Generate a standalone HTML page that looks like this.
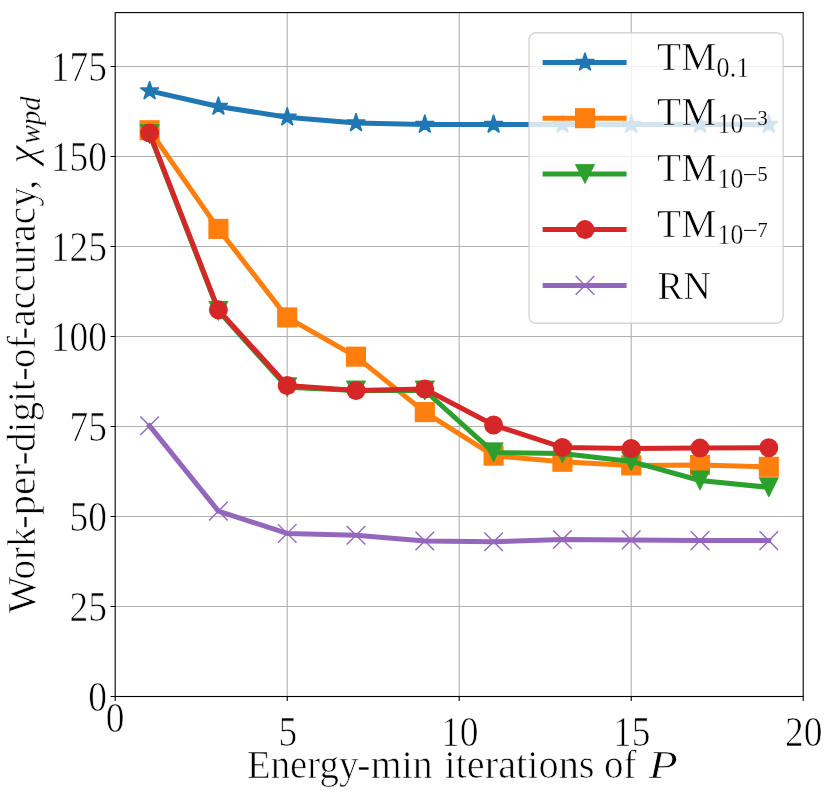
<!DOCTYPE html>
<html lang="en">
<head>
<meta charset="utf-8">
<title>Work-per-digit-of-accuracy</title>
<style>
html,body{margin:0;padding:0;background:#ffffff;}
body{width:830px;height:794px;overflow:hidden;font-family:"Liberation Serif",serif;}
svg{display:block;will-change:transform;}
</style>
</head>
<body>
<svg width="830" height="794" viewBox="0 0 830 794">
<rect x="0" y="0" width="830" height="794" fill="#ffffff"/>
<path d="M287.2 12.6V696.5M459.2 12.6V696.5M631.2 12.6V696.5M115.2 606.5H803.2M115.2 516.5H803.2M115.2 426.5H803.2M115.2 336.5H803.2M115.2 246.5H803.2M115.2 156.5H803.2M115.2 66.5H803.2" stroke="#b0b0b0" stroke-width="1.11" fill="none"/>
<path d="M115.2 696.5v4.6M287.2 696.5v4.6M459.2 696.5v4.6M631.2 696.5v4.6M803.2 696.5v4.6M115.2 696.5h-4.6M115.2 606.5h-4.6M115.2 516.5h-4.6M115.2 426.5h-4.6M115.2 336.5h-4.6M115.2 246.5h-4.6M115.2 156.5h-4.6M115.2 66.5h-4.6" stroke="#000" stroke-width="1.11" fill="none"/>
<clipPath id="axclip"><rect x="115.2" y="12.6" width="688" height="683.9"/></clipPath>
<g clip-path="url(#axclip)">
<polyline points="149.6,90.98 218.4,106.46 287.2,117.26 356,123.02 424.8,124.46 493.6,124.46 562.4,124.46 631.2,124.46 700,124.46 768.8,124.46" fill="none" stroke="#1f77b4" stroke-width="5" stroke-linejoin="round" stroke-linecap="square"/>
<polygon points="149.6,81.26 151.78,87.98 158.84,87.98 153.13,92.13 155.31,98.84 149.6,94.69 143.89,98.84 146.07,92.13 140.36,87.98 147.42,87.98" fill="#1f77b4" stroke="#1f77b4" stroke-width="1.39" stroke-linejoin="bevel"/>
<polygon points="218.4,96.74 220.58,103.46 227.64,103.46 221.93,107.61 224.11,114.32 218.4,110.17 212.69,114.32 214.87,107.61 209.16,103.46 216.22,103.46" fill="#1f77b4" stroke="#1f77b4" stroke-width="1.39" stroke-linejoin="bevel"/>
<polygon points="287.2,107.54 289.38,114.26 296.44,114.26 290.73,118.41 292.91,125.12 287.2,120.97 281.49,125.12 283.67,118.41 277.96,114.26 285.02,114.26" fill="#1f77b4" stroke="#1f77b4" stroke-width="1.39" stroke-linejoin="bevel"/>
<polygon points="356,113.3 358.18,120.02 365.24,120.02 359.53,124.17 361.71,130.88 356,126.73 350.29,130.88 352.47,124.17 346.76,120.02 353.82,120.02" fill="#1f77b4" stroke="#1f77b4" stroke-width="1.39" stroke-linejoin="bevel"/>
<polygon points="424.8,114.74 426.98,121.46 434.04,121.46 428.33,125.61 430.51,132.32 424.8,128.17 419.09,132.32 421.27,125.61 415.56,121.46 422.62,121.46" fill="#1f77b4" stroke="#1f77b4" stroke-width="1.39" stroke-linejoin="bevel"/>
<polygon points="493.6,114.74 495.78,121.46 502.84,121.46 497.13,125.61 499.31,132.32 493.6,128.17 487.89,132.32 490.07,125.61 484.36,121.46 491.42,121.46" fill="#1f77b4" stroke="#1f77b4" stroke-width="1.39" stroke-linejoin="bevel"/>
<polygon points="562.4,114.74 564.58,121.46 571.64,121.46 565.93,125.61 568.11,132.32 562.4,128.17 556.69,132.32 558.87,125.61 553.16,121.46 560.22,121.46" fill="#1f77b4" stroke="#1f77b4" stroke-width="1.39" stroke-linejoin="bevel"/>
<polygon points="631.2,114.74 633.38,121.46 640.44,121.46 634.73,125.61 636.91,132.32 631.2,128.17 625.49,132.32 627.67,125.61 621.96,121.46 629.02,121.46" fill="#1f77b4" stroke="#1f77b4" stroke-width="1.39" stroke-linejoin="bevel"/>
<polygon points="700,114.74 702.18,121.46 709.24,121.46 703.53,125.61 705.71,132.32 700,128.17 694.29,132.32 696.47,125.61 690.76,121.46 697.82,121.46" fill="#1f77b4" stroke="#1f77b4" stroke-width="1.39" stroke-linejoin="bevel"/>
<polygon points="768.8,114.74 770.98,121.46 778.04,121.46 772.33,125.61 774.51,132.32 768.8,128.17 763.09,132.32 765.27,125.61 759.56,121.46 766.62,121.46" fill="#1f77b4" stroke="#1f77b4" stroke-width="1.39" stroke-linejoin="bevel"/>
<polyline points="149.6,130.22 218.4,228.86 287.2,317.42 356,356.66 424.8,412.1 493.6,455.66 562.4,461.78 631.2,465.38 700,465.02 768.8,466.82" fill="none" stroke="#ff7f0e" stroke-width="5" stroke-linejoin="round" stroke-linecap="square"/>
<rect x="139.55" y="120.17" width="20.1" height="20.1" fill="#ff7f0e"/>
<rect x="208.35" y="218.81" width="20.1" height="20.1" fill="#ff7f0e"/>
<rect x="277.15" y="307.37" width="20.1" height="20.1" fill="#ff7f0e"/>
<rect x="345.95" y="346.61" width="20.1" height="20.1" fill="#ff7f0e"/>
<rect x="414.75" y="402.05" width="20.1" height="20.1" fill="#ff7f0e"/>
<rect x="483.55" y="445.61" width="20.1" height="20.1" fill="#ff7f0e"/>
<rect x="552.35" y="451.73" width="20.1" height="20.1" fill="#ff7f0e"/>
<rect x="621.15" y="455.33" width="20.1" height="20.1" fill="#ff7f0e"/>
<rect x="689.95" y="454.97" width="20.1" height="20.1" fill="#ff7f0e"/>
<rect x="758.75" y="456.77" width="20.1" height="20.1" fill="#ff7f0e"/>
<polyline points="149.6,134.18 218.4,310.94 287.2,387.26 356,390.5 424.8,390.5 493.6,452.42 562.4,453.5 631.2,461.42 700,480.5 768.8,487.34" fill="none" stroke="#2ca02c" stroke-width="5" stroke-linejoin="round" stroke-linecap="square"/>
<polygon points="140.03,124.61 159.17,124.61 149.6,143.75" fill="#2ca02c" stroke="#2ca02c" stroke-width="0.83" stroke-linejoin="miter"/>
<polygon points="208.83,301.37 227.97,301.37 218.4,320.51" fill="#2ca02c" stroke="#2ca02c" stroke-width="0.83" stroke-linejoin="miter"/>
<polygon points="277.63,377.69 296.77,377.69 287.2,396.83" fill="#2ca02c" stroke="#2ca02c" stroke-width="0.83" stroke-linejoin="miter"/>
<polygon points="346.43,380.93 365.57,380.93 356,400.07" fill="#2ca02c" stroke="#2ca02c" stroke-width="0.83" stroke-linejoin="miter"/>
<polygon points="415.23,380.93 434.37,380.93 424.8,400.07" fill="#2ca02c" stroke="#2ca02c" stroke-width="0.83" stroke-linejoin="miter"/>
<polygon points="484.03,442.85 503.17,442.85 493.6,461.99" fill="#2ca02c" stroke="#2ca02c" stroke-width="0.83" stroke-linejoin="miter"/>
<polygon points="552.83,443.93 571.97,443.93 562.4,463.07" fill="#2ca02c" stroke="#2ca02c" stroke-width="0.83" stroke-linejoin="miter"/>
<polygon points="621.63,451.85 640.77,451.85 631.2,470.99" fill="#2ca02c" stroke="#2ca02c" stroke-width="0.83" stroke-linejoin="miter"/>
<polygon points="690.43,470.93 709.57,470.93 700,490.07" fill="#2ca02c" stroke="#2ca02c" stroke-width="0.83" stroke-linejoin="miter"/>
<polygon points="759.23,477.77 778.37,477.77 768.8,496.91" fill="#2ca02c" stroke="#2ca02c" stroke-width="0.83" stroke-linejoin="miter"/>
<polyline points="149.6,133.1 218.4,309.86 287.2,385.46 356,390.5 424.8,389.06 493.6,425.06 562.4,447.38 631.2,448.46 700,448.1 768.8,447.74" fill="none" stroke="#d62728" stroke-width="5" stroke-linejoin="round" stroke-linecap="square"/>
<circle cx="149.6" cy="133.1" r="9.5" fill="#d62728"/>
<circle cx="218.4" cy="309.86" r="9.5" fill="#d62728"/>
<circle cx="287.2" cy="385.46" r="9.5" fill="#d62728"/>
<circle cx="356" cy="390.5" r="9.5" fill="#d62728"/>
<circle cx="424.8" cy="389.06" r="9.5" fill="#d62728"/>
<circle cx="493.6" cy="425.06" r="9.5" fill="#d62728"/>
<circle cx="562.4" cy="447.38" r="9.5" fill="#d62728"/>
<circle cx="631.2" cy="448.46" r="9.5" fill="#d62728"/>
<circle cx="700" cy="448.1" r="9.5" fill="#d62728"/>
<circle cx="768.8" cy="447.74" r="9.5" fill="#d62728"/>
<polyline points="149.6,425.78 218.4,511.1 287.2,533.42 356,535.22 424.8,540.98 493.6,541.7 562.4,539.54 631.2,539.9 700,540.62 768.8,540.62" fill="none" stroke="#9467bd" stroke-width="5" stroke-linejoin="round" stroke-linecap="square"/>
<path d="M140.3 416.48L158.9 435.08M140.3 435.08L158.9 416.48" stroke="#9467bd" stroke-width="1.39" fill="none"/>
<path d="M209.1 501.8L227.7 520.4M209.1 520.4L227.7 501.8" stroke="#9467bd" stroke-width="1.39" fill="none"/>
<path d="M277.9 524.12L296.5 542.72M277.9 542.72L296.5 524.12" stroke="#9467bd" stroke-width="1.39" fill="none"/>
<path d="M346.7 525.92L365.3 544.52M346.7 544.52L365.3 525.92" stroke="#9467bd" stroke-width="1.39" fill="none"/>
<path d="M415.5 531.68L434.1 550.28M415.5 550.28L434.1 531.68" stroke="#9467bd" stroke-width="1.39" fill="none"/>
<path d="M484.3 532.4L502.9 551M484.3 551L502.9 532.4" stroke="#9467bd" stroke-width="1.39" fill="none"/>
<path d="M553.1 530.24L571.7 548.84M553.1 548.84L571.7 530.24" stroke="#9467bd" stroke-width="1.39" fill="none"/>
<path d="M621.9 530.6L640.5 549.2M621.9 549.2L640.5 530.6" stroke="#9467bd" stroke-width="1.39" fill="none"/>
<path d="M690.7 531.32L709.3 549.92M690.7 549.92L709.3 531.32" stroke="#9467bd" stroke-width="1.39" fill="none"/>
<path d="M759.5 531.32L778.1 549.92M759.5 549.92L778.1 531.32" stroke="#9467bd" stroke-width="1.39" fill="none"/>
</g>
<rect x="115.2" y="12.6" width="688" height="683.9" fill="none" stroke="#000" stroke-width="1.11"/>
<rect x="529" y="32.7" width="254.2" height="290.5" rx="7" ry="7" fill="#ffffff" fill-opacity="0.8" stroke="#cccccc" stroke-opacity="0.8" stroke-width="1.39"/>
<path d="M542.6 62.4H626.6" stroke="#1f77b4" stroke-width="5" fill="none"/>
<polygon points="585,52.68 587.18,59.4 594.24,59.4 588.53,63.55 590.71,70.26 585,66.11 579.29,70.26 581.47,63.55 575.76,59.4 582.82,59.4" fill="#1f77b4" stroke="#1f77b4" stroke-width="1.39" stroke-linejoin="bevel"/>
<path d="M542.6 118.2H626.6" stroke="#ff7f0e" stroke-width="5" fill="none"/>
<rect x="574.95" y="108.15" width="20.1" height="20.1" fill="#ff7f0e"/>
<path d="M542.6 174H626.6" stroke="#2ca02c" stroke-width="5" fill="none"/>
<polygon points="575.43,164.43 594.57,164.43 585,183.57" fill="#2ca02c" stroke="#2ca02c" stroke-width="0.83" stroke-linejoin="miter"/>
<path d="M542.6 229.6H626.6" stroke="#d62728" stroke-width="5" fill="none"/>
<circle cx="585" cy="229.6" r="9.5" fill="#d62728"/>
<path d="M542.6 285.4H626.6" stroke="#9467bd" stroke-width="5" fill="none"/>
<path d="M575.7 276.1L594.3 294.7M575.7 294.7L594.3 276.1" stroke="#9467bd" stroke-width="1.39" fill="none"/>
<g font-family="Liberation Serif, serif" fill="#000" stroke="#ffffff" stroke-linejoin="round">
<text x="88.2" y="711" font-size="42.2" stroke-width="0.7" textLength="18.7" lengthAdjust="spacingAndGlyphs" >0</text>
<text x="69.5" y="621" font-size="42.2" stroke-width="0.7" textLength="37.4" lengthAdjust="spacingAndGlyphs" >25</text>
<text x="69.5" y="531" font-size="42.2" stroke-width="0.7" textLength="37.4" lengthAdjust="spacingAndGlyphs" >50</text>
<text x="69.5" y="441" font-size="42.2" stroke-width="0.7" textLength="37.4" lengthAdjust="spacingAndGlyphs" >75</text>
<text x="50.8" y="351" font-size="42.2" stroke-width="0.7" textLength="56.1" lengthAdjust="spacingAndGlyphs" >100</text>
<text x="50.8" y="261" font-size="42.2" stroke-width="0.7" textLength="56.1" lengthAdjust="spacingAndGlyphs" >125</text>
<text x="50.8" y="171" font-size="42.2" stroke-width="0.7" textLength="56.1" lengthAdjust="spacingAndGlyphs" >150</text>
<text x="50.8" y="81" font-size="42.2" stroke-width="0.7" textLength="56.1" lengthAdjust="spacingAndGlyphs" >175</text>
<text x="105.85" y="731.8" font-size="42.2" stroke-width="0.7" textLength="18.7" lengthAdjust="spacingAndGlyphs" >0</text>
<text x="278.45" y="745.6" font-size="42.2" stroke-width="0.7" textLength="18.7" lengthAdjust="spacingAndGlyphs" >5</text>
<text x="441.1" y="745.6" font-size="42.2" stroke-width="0.7" textLength="37.4" lengthAdjust="spacingAndGlyphs" >10</text>
<text x="613.1" y="745.6" font-size="42.2" stroke-width="0.7" textLength="37.4" lengthAdjust="spacingAndGlyphs" >15</text>
<text x="785.1" y="745.6" font-size="42.2" stroke-width="0.7" textLength="37.4" lengthAdjust="spacingAndGlyphs" >20</text>
<text x="247" y="778" font-size="41" stroke-width="0.7" textLength="111.37" lengthAdjust="spacingAndGlyphs" >Energy</text>
<text x="357.2" y="778" font-size="41" stroke-width="0.7" textLength="13.16" lengthAdjust="spacingAndGlyphs" >-</text>
<text x="370.75" y="778" font-size="41" stroke-width="0.7" textLength="61.95" lengthAdjust="spacingAndGlyphs" >min</text>
<text x="444.4" y="778" font-size="41" stroke-width="0.7" textLength="150.14" lengthAdjust="spacingAndGlyphs" >iterations</text>
<text x="603.95" y="778" font-size="41" stroke-width="0.7" textLength="32.45" lengthAdjust="spacingAndGlyphs" >of</text>
<text x="648.85" y="778" font-size="41" stroke-width="0.7" textLength="29.03" lengthAdjust="spacingAndGlyphs" font-style="italic">P</text>
<g transform="translate(34.5 613.5) rotate(-90)">
<text x="0.35" y="0" font-size="41" stroke-width="0.7" textLength="85.83" lengthAdjust="spacingAndGlyphs" >Work</text>
<text x="84.7" y="0" font-size="41" stroke-width="0.7" textLength="13.66" lengthAdjust="spacingAndGlyphs" >-</text>
<text x="98.3" y="0" font-size="41" stroke-width="0.7" textLength="51.33" lengthAdjust="spacingAndGlyphs" >per</text>
<text x="147.95" y="0" font-size="41" stroke-width="0.7" textLength="14.21" lengthAdjust="spacingAndGlyphs" >-</text>
<text x="161.45" y="0" font-size="41" stroke-width="0.7" textLength="71.9" lengthAdjust="spacingAndGlyphs" >digit</text>
<text x="232.55" y="0" font-size="41" stroke-width="0.7" textLength="14.21" lengthAdjust="spacingAndGlyphs" >-</text>
<text x="245.55" y="0" font-size="41" stroke-width="0.7" textLength="32.04" lengthAdjust="spacingAndGlyphs" >of</text>
<text x="274.1" y="0" font-size="41" stroke-width="0.7" textLength="12.72" lengthAdjust="spacingAndGlyphs" >-</text>
<text x="286.7" y="0" font-size="41" stroke-width="0.7" textLength="139.75" lengthAdjust="spacingAndGlyphs" >accuracy</text>
<text x="423.9" y="0" font-size="41" stroke-width="0.7" textLength="9.6" lengthAdjust="spacingAndGlyphs" >,</text>
<text x="449.65" y="0" font-size="41" stroke-width="0.7" textLength="18.42" lengthAdjust="spacingAndGlyphs" font-style="italic">&#967;</text>
<text x="469.5" y="5.6" font-size="29.2" stroke-width="0.35" textLength="47.64" lengthAdjust="spacingAndGlyphs" font-style="italic">wpd</text>
</g>
<text x="657.1" y="70.4" font-size="41" stroke-width="0.7" textLength="59.1" lengthAdjust="spacingAndGlyphs" >TM</text>
<text x="716.6" y="76.7" font-size="29.2" stroke-width="0.35" textLength="32.6" lengthAdjust="spacingAndGlyphs" >0.1</text>
<text x="657.1" y="125" font-size="41" stroke-width="0.7" textLength="59.1" lengthAdjust="spacingAndGlyphs" >TM</text>
<text x="717.6" y="132.5" font-size="29.2" stroke-width="0.35" textLength="25.6" lengthAdjust="spacingAndGlyphs" >10</text>
<path d="M744.0 118.8H756.4" stroke="#000" stroke-width="1.0" fill="none"/>
<text x="757.4" y="124.9" font-size="20.6" stroke-width="0.12" textLength="10.2" lengthAdjust="spacingAndGlyphs" >3</text>
<text x="657.1" y="180.8" font-size="41" stroke-width="0.7" textLength="59.1" lengthAdjust="spacingAndGlyphs" >TM</text>
<text x="717.6" y="188.3" font-size="29.2" stroke-width="0.35" textLength="25.6" lengthAdjust="spacingAndGlyphs" >10</text>
<path d="M744.0 174.6H756.4" stroke="#000" stroke-width="1.0" fill="none"/>
<text x="757.4" y="180.7" font-size="20.6" stroke-width="0.12" textLength="10.2" lengthAdjust="spacingAndGlyphs" >5</text>
<text x="657.1" y="236.6" font-size="41" stroke-width="0.7" textLength="59.1" lengthAdjust="spacingAndGlyphs" >TM</text>
<text x="717.6" y="244.1" font-size="29.2" stroke-width="0.35" textLength="25.6" lengthAdjust="spacingAndGlyphs" >10</text>
<path d="M744.0 230.4H756.4" stroke="#000" stroke-width="1.0" fill="none"/>
<text x="757.4" y="236.5" font-size="20.6" stroke-width="0.12" textLength="10.2" lengthAdjust="spacingAndGlyphs" >7</text>
<text x="657.6" y="298.8" font-size="41" stroke-width="0.7" textLength="53.2" lengthAdjust="spacingAndGlyphs" >RN</text>
</g>
</svg>
</body>
</html>
